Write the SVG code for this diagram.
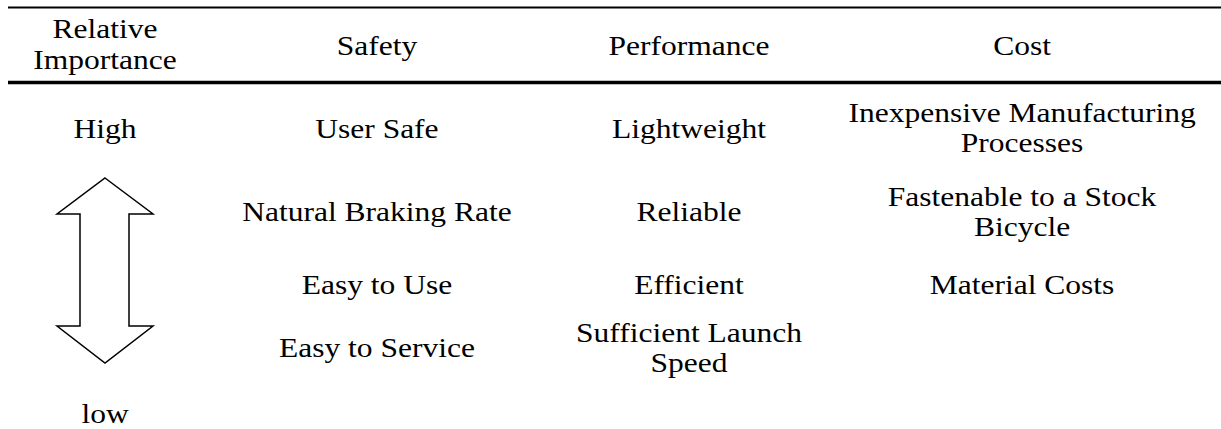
<svg xmlns="http://www.w3.org/2000/svg" width="1221" height="429" viewBox="0 0 1221 429">
<style>
text{font-family:"Liberation Serif","Times New Roman",serif;font-size:27px;fill:#000;text-anchor:middle}
.rule{stroke:#000}
</style>
<rect width="1221" height="429" fill="#fff"/>
<g id="rules">
<line class="rule" x1="8" y1="7.5" x2="1221" y2="7.5" stroke-width="2"/>
<line class="rule" x1="8" y1="82.5" x2="1221" y2="82.5" stroke-width="3.5"/>
</g>
<g id="arrow">
<path d="M105,178 L153,214 L129,214 L129,326 L153,326 L105,363 L57,326 L80,326 L80,214 L57,214 Z" fill="none" stroke="#000" stroke-width="1.5"/>
</g>
<g transform="scale(1.167,1)">
<g id="header">
<text x="90" y="38.5">Relative</text>
<text x="90" y="69.5">Importance</text>
<text x="323" y="55">Safety</text>
<text x="590.4" y="55">Performance</text>
<text x="875.8" y="55">Cost</text>
</g>
<g id="importance">
<text x="90" y="138">High</text>
<text x="90" y="423">low</text>
</g>
<g id="safety">
<text x="323" y="138">User Safe</text>
<text x="323" y="221">Natural Braking Rate</text>
<text x="323" y="294">Easy to Use</text>
<text x="323" y="357">Easy to Service</text>
</g>
<g id="performance">
<text x="590.4" y="138">Lightweight</text>
<text x="590.4" y="221">Reliable</text>
<text x="590.4" y="294">Efficient</text>
<text x="590.4" y="342">Sufficient Launch</text>
<text x="590.4" y="372.5">Speed</text>
</g>
<g id="cost">
<text x="875.8" y="122">Inexpensive Manufacturing</text>
<text x="875.8" y="152.5">Processes</text>
<text x="875.8" y="206">Fastenable to a Stock</text>
<text x="875.8" y="236.5">Bicycle</text>
<text x="875.8" y="294">Material Costs</text>
</g>
</g>
</svg>
